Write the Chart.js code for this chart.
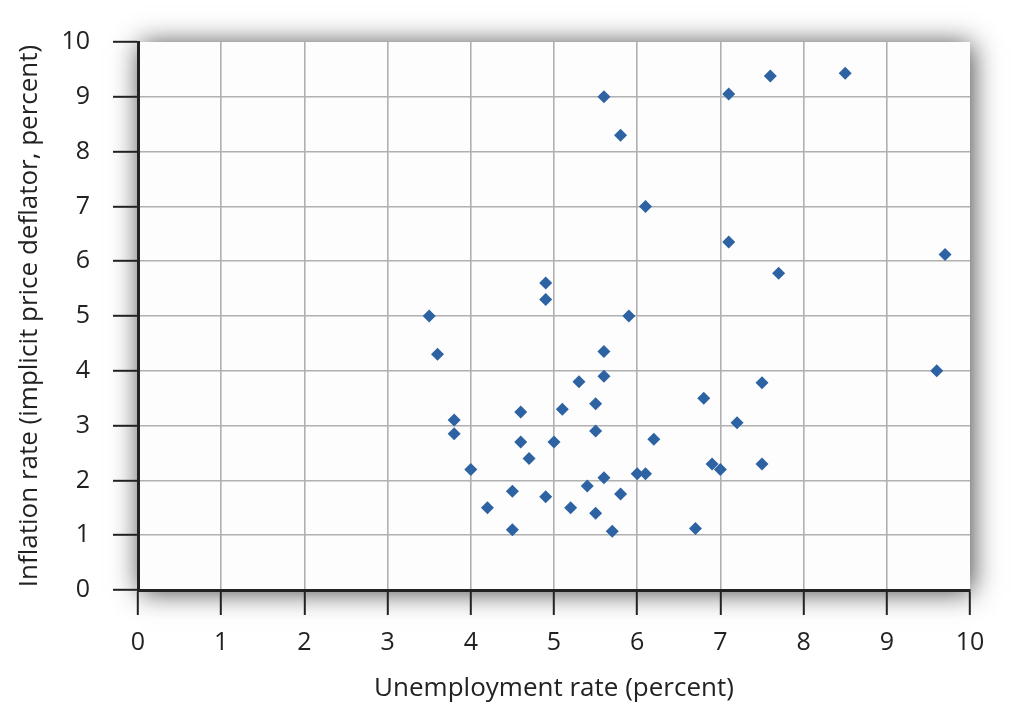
<!DOCTYPE html>
<html>
<head>
<meta charset="utf-8">
<script src="https://cdn.jsdelivr.net/npm/chart.js@4/dist/chart.umd.min.js"></script>
<style>
	html, body { margin: 0; padding: 0; background: #fff; }
	#wrap { width: 1011px; height: 704px; }
</style>
</head>
<body>
<div id="wrap"><canvas id="chart"></canvas></div>
<script>
// unemployment rate (percent), x
const unemployment = [
	3.5, 3.6, 3.8, 3.8, 4.0, 4.2, 4.5, 4.5, 4.6, 4.6, 4.7, 4.9, 4.9, 4.9, 5.0, 5.1,
	5.2, 5.3, 5.4, 5.5, 5.5, 5.5, 5.6, 5.6, 5.6, 5.6, 5.7, 5.8, 5.8, 5.9, 6.0, 6.1,
	6.1, 6.2, 6.7, 6.8, 6.9, 7.0, 7.1, 7.1, 7.2, 7.5, 7.5, 7.6, 7.7, 8.5, 9.6, 9.7,
];
// inflation rate (implicit price deflator, percent), y
const inflation = [
	5.0, 4.3, 3.1, 2.85, 2.2, 1.5, 1.8, 1.1, 3.25, 2.7, 2.4, 5.6, 5.3, 1.7, 2.7, 3.3,
	1.5, 3.8, 1.9, 3.4, 2.9, 1.4, 9.0, 4.35, 3.9, 2.05, 1.07, 8.3, 1.75, 5.0, 2.12, 7.0,
	2.12, 2.75, 1.12, 3.5, 2.3, 2.2, 9.05, 6.35, 3.05, 3.78, 2.3, 9.38, 5.78, 9.43, 4.0, 6.12,
];
const xTicks = [0, 1, 2, 3, 4, 5, 6, 7, 8, 9, 10];
const yTicks = [0, 1, 2, 3, 4, 5, 6, 7, 8, 9, 10];

const points = unemployment.map((x, i) => ({ x, y: inflation[i] }));

// soft shadow round the plot box, drawn before the grid
const boxShadow = {
	id: 'boxShadow',
	beforeDraw(chart) {
		const { ctx, chartArea: a } = chart;
		ctx.save();
		ctx.shadowColor = 'rgba(0, 0, 0, 0.75)';
		ctx.shadowBlur = 26;
		ctx.shadowOffsetX = 2;
		ctx.shadowOffsetY = 2;
		ctx.fillStyle = '#fdfdfd';
		ctx.fillRect(a.left, a.top, a.right - a.left, a.bottom - a.top);
		ctx.restore();
	},
};

const family = '"Open Sans", "Noto Sans", sans-serif';
const tickFont = { family, size: 25 };
const titleFont = { family, size: 26 };
const gridColor = (c) => (c.tick && c.tick.value === 10 ? 'rgba(0,0,0,0)' : '#b0b0b0');

new Chart(document.getElementById('chart'), {
	type: 'scatter',
	data: {
		datasets: [{
			data: points,
			pointStyle: 'rectRot',
			pointRadius: 6.5,
			pointHoverRadius: 6.5,
			backgroundColor: '#2d62a3',
			borderColor: '#2d62a3',
			borderWidth: 0,
		}],
	},
	options: {
		responsive: true,
		maintainAspectRatio: false,
		animation: false,
		layout: {
			padding: { top: 42, right: 41, bottom: 0, left: 0 },
		},
		plugins: {
			legend: { display: false },
			tooltip: { enabled: false },
		},
		scales: {
			x: {
				type: 'linear',
				min: 0,
				max: 10,
				afterBuildTicks: (s) => { s.ticks = xTicks.map((v) => ({ value: v })); },
				afterFit: (s) => { s.height = 114; },
				grid: {
					color: gridColor,
					lineWidth: 1.6,
					tickColor: '#222',
					tickWidth: 2,
					tickLength: 25,
				},
				border: { color: '#222', width: 3 },
				ticks: { color: '#222', font: tickFont, padding: 13 },
				title: {
					display: true,
					text: 'Unemployment rate (percent)',
					color: '#222',
					font: titleFont,
					padding: { top: 0, bottom: 0 },
				},
			},
			y: {
				type: 'linear',
				min: 0,
				max: 10,
				afterBuildTicks: (s) => { s.ticks = yTicks.map((v) => ({ value: v })); },
				afterFit: (s) => { s.width = 138; },
				grid: {
					color: gridColor,
					lineWidth: 1.6,
					tickColor: '#222',
					tickWidth: 2,
					tickLength: 25,
				},
				border: { color: '#222', width: 3 },
				ticks: { color: '#222', font: tickFont, padding: 23 },
				title: {
					display: true,
					text: 'Inflation rate (implicit price deflator, percent)',
					color: '#222',
					font: titleFont,
					padding: { top: 14, bottom: 0 },
				},
			},
		},
	},
	plugins: [boxShadow],
});
</script>
</body>
</html>
